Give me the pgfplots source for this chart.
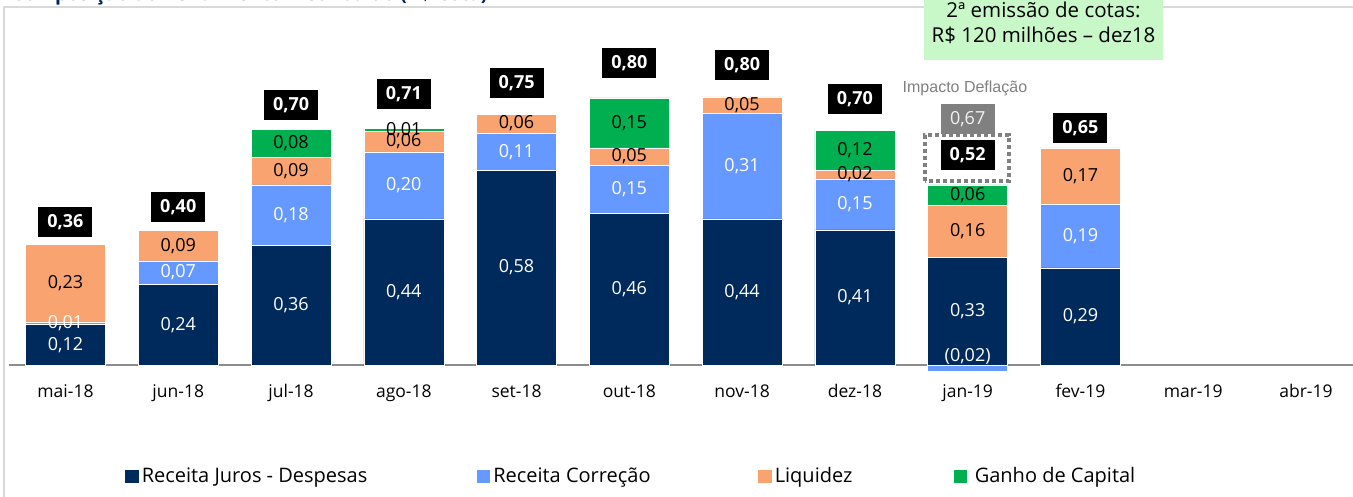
\documentclass[border=0pt]{standalone}
\usepackage{pgfplots}
\pgfplotsset{compat=1.18}
\usepackage{pgfplotstable}
\usepackage{fontspec}
\setmainfont{Open Sans}
\newfontfamily\arialfont{Liberation Sans}
\definecolor{cdark}{HTML}{002A5C}
\definecolor{clight}{HTML}{6699FF}
\definecolor{corange}{HTML}{F8A370}
\definecolor{cgreen}{HTML}{00B050}
\definecolor{cframe}{HTML}{D9D9D9}
\definecolor{caxis}{HTML}{8C8C8C}
\definecolor{cbox}{HTML}{C8F7C8}
\definecolor{ctitle}{HTML}{002060}
\definecolor{cgray}{HTML}{808080}

\pgfplotstableread{
x dark light orange green
0 0.120 0.008 0.230 0.000
1 0.240 0.070 0.090 0.000
2 0.357 0.179 0.083 0.083
3 0.435 0.199 0.062 0.009
4 0.580 0.110 0.057 0.000
5 0.452 0.143 0.051 0.149
6 0.435 0.315 0.048 0.000
7 0.402 0.152 0.026 0.119
8 0.321 0.000 0.155 0.060
9 0.289 0.190 0.167 0.000
}\bars

\pgfplotstableread{
x y lab
0 0.060 0,12
0 0.124 0,01
1 0.120 0,24
1 0.275 0,07
2 0.1785 0,36
2 0.4465 0,18
3 0.2175 0,44
3 0.5345 0,20
4 0.290 0,58
4 0.635 0,11
5 0.226 0,46
5 0.5235 0,15
6 0.2175 0,44
6 0.5925 0,31
7 0.201 0,41
7 0.478 0,15
8 0.1605 0,33
8 0.027 (0,02)
9 0.1445 0,29
9 0.384 0,19
}\whitelabs

\pgfplotstableread{
x y lab
0 0.2425 0,23
1 0.355 0,09
2 0.5775 0,09
2 0.6605 0,08
3 0.665 0,06
3 0.7005 0,01
4 0.7185 0,06
5 0.6205 0,05
5 0.7205 0,15
6 0.774 0,05
7 0.567 0,02
7 0.6395 0,12
8 0.3985 0,16
8 0.506 0,06
9 0.5625 0,17
}\blacklabs

\pgfplotstableread{
x y lab
0 0.4256 0,36
1 0.4702 0,40
2 0.7738 0,70
3 0.8065 0,71
4 0.8393 0,75
5 0.8988 0,80
6 0.8929 0,80
7 0.7917 0,70
8 0.625 0,52
9 0.7054 0,65
}\totals

\pgfplotstableread{
x y lab
8 0.7321 0,67
}\deflab

\begin{document}
\begin{tikzpicture}
\pgfplotsset{
  common/.style={
    scale only axis, width=1343.9pt, height=376.3pt,
    xmin=-0.5, xmax=11.417, ymin=-0.05, ymax=1.07,
    at={(0pt,0pt)}, anchor=south west, clip=false,
  },
}
% frame
\draw[cframe, line width=2pt] (-5.1pt,-130pt) -- (-5.1pt,374.3pt) -- (1360pt,374.3pt);
% title (mostly cut off at top)
\node[anchor=base west, font=\bfseries\fontsize{19.4}{22}\selectfont, text=ctitle, inner sep=0pt]
  at (2.5pt,380.9pt) {Composição do Rendimento Distribuído (R\$/cota)};
% green box
\fill[cbox] (914.9pt,321.8pt) rectangle (1153.9pt,400pt);
\node[anchor=base, font=\fontsize{20.5}{24}\selectfont, inner sep=0pt] at (1034.4pt,364.3pt) {2ª emissão de cotas:};
\node[anchor=base, font=\fontsize{20.5}{24}\selectfont, inner sep=0pt] at (1034.4pt,338.8pt) {R\$ 120 milhões – dez18};

\begin{axis}[common,
  ybar stacked, bar width=80pt,
  axis y line=none, axis x line=middle,
  hide obscured x ticks=false,
  axis line style={draw=caxis, line width=2pt, -},
  every inner x axis line/.append style={-},
  x axis line style={-},
  xtick={0,1,2,3,4,5,6,7,8,9,10,11},
  xticklabels={mai-18,jun-18,jul-18,ago-18,set-18,out-18,nov-18,dez-18,jan-19,fev-19,mar-19,abr-19},
  major tick length=0pt,
  xticklabel style={font=\fontsize{17.5}{20}\selectfont, anchor=base, yshift=-32pt},
  legend style={draw=none, fill=none, at={(axis description cs:0.0863,-0.2503)}, anchor=west,
    legend columns=4, font=\fontsize{20}{24}\selectfont, inner sep=0pt,
    nodes={inner sep=2pt}},
]
\addplot[fill=cdark, draw=white, line width=0.5pt,
  legend image code/.code={\fill[cdark] (0pt,-6pt) rectangle (12.5pt,6pt);}]
  table[x=x,y=dark]{\bars};
\addlegendentry{\hspace{1.5pt}\makebox[333pt][l]{Receita Juros - Despesas}}
\addplot[fill=clight, draw=white, line width=0.5pt,
  legend image code/.code={\fill[clight] (0pt,-6pt) rectangle (12.5pt,6pt);}]
  table[x=x,y=light]{\bars};
\addlegendentry{\hspace{1.5pt}\makebox[263pt][l]{Receita Correção}}
\addplot[fill=corange, draw=white, line width=0.5pt,
  legend image code/.code={\fill[corange] (0pt,-6pt) rectangle (12.5pt,6pt);}]
  table[x=x,y=orange]{\bars};
\addlegendentry{\hspace{1.5pt}\makebox[177pt][l]{Liquidez}}
\addplot[fill=cgreen, draw=white, line width=0.5pt,
  legend image code/.code={\fill[cgreen] (0pt,-6pt) rectangle (12.5pt,6pt);}]
  table[x=x,y=green]{\bars};
\addlegendentry{\hspace{6pt}Ganho de Capital}
\end{axis}

\begin{axis}[common, hide axis]
\addplot[ybar, bar width=80pt, fill=clight, draw=white, line width=0.5pt] coordinates {(8,-0.02)};
\draw[cgray, line width=4pt, dash pattern=on 4pt off 3pt]
  (axis cs:7.622,0.5476) rectangle (axis cs:8.366,0.6845);
\addplot[only marks, mark=none, point meta=explicit symbolic, nodes near coords,
  nodes near coords style={anchor=center, font=\fontsize{18}{20}\selectfont, text=white, inner sep=0pt}]
  table[x=x,y=y,meta=lab]{\whitelabs};
\addplot[only marks, mark=none, point meta=explicit symbolic, nodes near coords,
  nodes near coords style={anchor=center, font=\fontsize{18}{20}\selectfont, text=black, inner sep=0pt}]
  table[x=x,y=y,meta=lab]{\blacklabs};
\addplot[only marks, mark=none, point meta=explicit symbolic, nodes near coords,
  nodes near coords style={anchor=center, font=\bfseries\fontsize{18}{20}\selectfont, text=white,
    fill=black, inner sep=0pt, minimum width=54pt, minimum height=30pt}]
  table[x=x,y=y,meta=lab]{\totals};
\addplot[only marks, mark=none, point meta=explicit symbolic, nodes near coords,
  nodes near coords style={anchor=center, font=\fontsize{18}{20}\selectfont, text=white!95!black,
    fill=cgray, inner sep=0pt, minimum width=54pt, minimum height=30pt}]
  table[x=x,y=y,meta=lab]{\deflab};
\node[font=\arialfont\fontsize{16}{18}\selectfont, text=cgray] at (axis cs:7.976,0.8244) {Impacto Deflação};
\end{axis}

\pgfresetboundingbox
\useasboundingbox (-9.1pt,-114.2pt) rectangle (1343.9pt,381.8pt);
\end{tikzpicture}
\end{document}
